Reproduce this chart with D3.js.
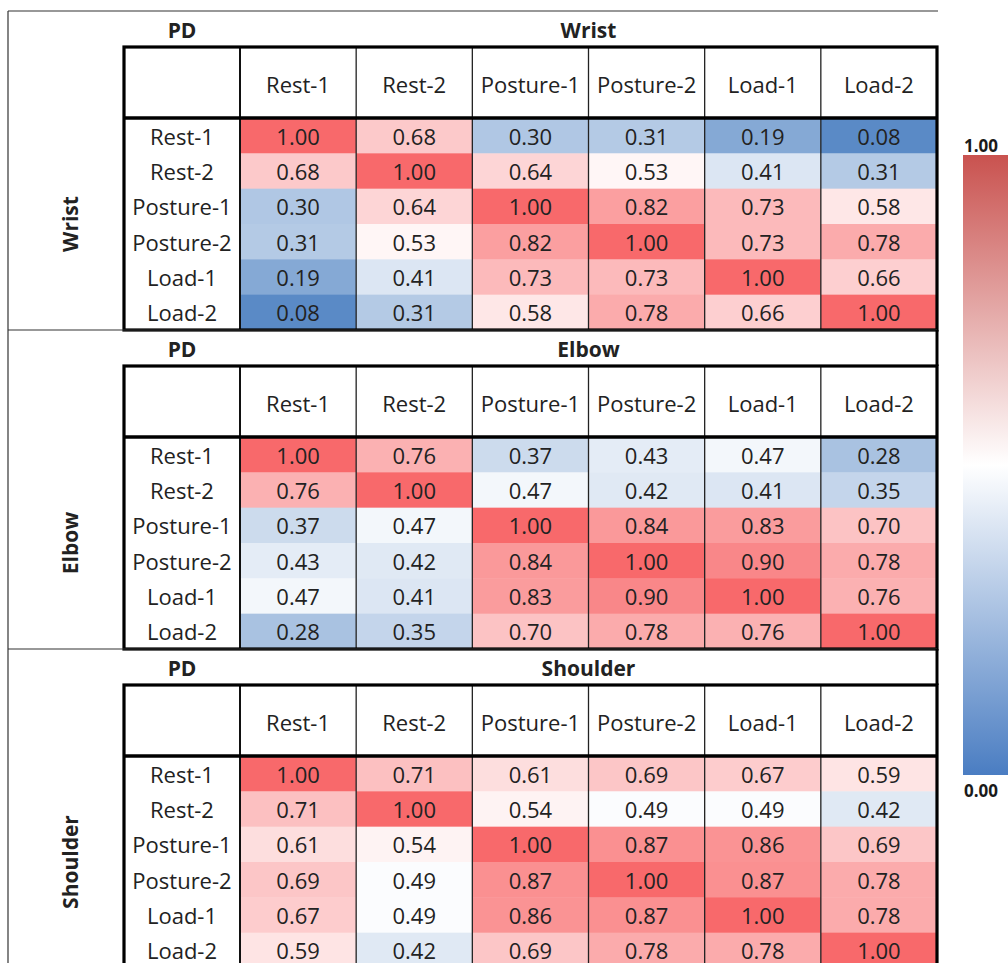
<!DOCTYPE html>
<html>
<head>
<meta charset="utf-8">
<script src="https://cdn.jsdelivr.net/npm/d3@7"></script>
<style>
  html, body { margin: 0; padding: 0; background: #fff; overflow: hidden; }
  svg { display: block; }
</style>
</head>
<body>
<svg id="chart" width="1008" height="963"></svg>
<script>
// ---------------- DATA ----------------
const conditions = ["Rest-1", "Rest-2", "Posture-1", "Posture-2", "Load-1", "Load-2"];
const joints = ["Wrist", "Elbow", "Shoulder"];
const groupLabel = "PD";

const wristValues = [
  [1.00, 0.68, 0.30, 0.31, 0.19, 0.08],
  [0.68, 1.00, 0.64, 0.53, 0.41, 0.31],
  [0.30, 0.64, 1.00, 0.82, 0.73, 0.58],
  [0.31, 0.53, 0.82, 1.00, 0.73, 0.78],
  [0.19, 0.41, 0.73, 0.73, 1.00, 0.66],
  [0.08, 0.31, 0.58, 0.78, 0.66, 1.00]
];
const elbowValues = [
  [1.00, 0.76, 0.37, 0.43, 0.47, 0.28],
  [0.76, 1.00, 0.47, 0.42, 0.41, 0.35],
  [0.37, 0.47, 1.00, 0.84, 0.83, 0.70],
  [0.43, 0.42, 0.84, 1.00, 0.90, 0.78],
  [0.47, 0.41, 0.83, 0.90, 1.00, 0.76],
  [0.28, 0.35, 0.70, 0.78, 0.76, 1.00]
];
const shoulderValues = [
  [1.00, 0.71, 0.61, 0.69, 0.67, 0.59],
  [0.71, 1.00, 0.54, 0.49, 0.49, 0.42],
  [0.61, 0.54, 1.00, 0.87, 0.86, 0.69],
  [0.69, 0.49, 0.87, 1.00, 0.87, 0.78],
  [0.67, 0.49, 0.86, 0.87, 1.00, 0.78],
  [0.59, 0.42, 0.69, 0.78, 0.78, 1.00]
];
const legendTicks = [0, 1];

// ---------------- LAYOUT ----------------
const svg = d3.select("#chart");
const FONT = "'Open Sans', 'Noto Sans', sans-serif";
const textColor = "#222";
const FS = 22, FSB = 21;

const frameLeft = 8, tableLeft = 124, labelRight = 240, tableRight = 937;
const top0 = 11, sectionH = 319, bandH = 36, headerH = 71;
const rowH = (sectionH - bandH - headerH) / 6;

const allVals = [wristValues, elbowValues, shoulderValues].flat(2);
const color = d3.scaleLinear()
  .domain([d3.min(allVals), 0.5, d3.max(allVals)])
  .range(["#5A8AC6", "#FFFFFF", "#F8696B"])
  .clamp(true);

const x = d3.scaleBand().domain(conditions).range([labelRight, tableRight]);

const sections = [
  { name: joints[0], values: wristValues },
  { name: joints[1], values: elbowValues },
  { name: joints[2], values: shoulderValues }
];

sections.forEach((sec, si) => {
  const sTop = top0 + si * sectionH;
  const hTop = sTop + bandH;
  const dTop = hTop + headerH;
  const dBot = dTop + rowH * 6;
  const y = d3.scaleBand().domain(conditions).range([dTop, dBot]);
  const g = svg.append("g");

  // cells
  const cells = [];
  sec.values.forEach((row, ri) => row.forEach((v, ci) => cells.push({ r: conditions[ri], c: conditions[ci], v })));
  g.selectAll("rect.cell").data(cells).join("rect")
    .attr("class", "cell")
    .attr("x", d => x(d.c)).attr("y", d => y(d.r))
    .attr("width", x.bandwidth()).attr("height", y.bandwidth() + 0.5)
    .attr("fill", d => color(d.v));

  g.selectAll("text.val").data(cells).join("text")
    .attr("class", "val")
    .attr("x", d => x(d.c) + x.bandwidth() / 2)
    .attr("y", d => y(d.r) + y.bandwidth() / 2)
    .attr("text-anchor", "middle").attr("dominant-baseline", "central")
    .attr("font-family", FONT).attr("font-size", FS).attr("fill", textColor)
    .text(d => d3.format(".2f")(d.v));

  // row labels
  g.selectAll("text.rl").data(conditions).join("text")
    .attr("class", "rl")
    .attr("x", (tableLeft + labelRight) / 2)
    .attr("y", d => y(d) + y.bandwidth() / 2)
    .attr("text-anchor", "middle").attr("dominant-baseline", "central")
    .attr("font-family", FONT).attr("font-size", FS).attr("fill", textColor)
    .text(d => d);

  // column headers
  g.selectAll("text.cl").data(conditions).join("text")
    .attr("class", "cl")
    .attr("x", d => x(d) + x.bandwidth() / 2)
    .attr("y", hTop + headerH / 2 + 1)
    .attr("text-anchor", "middle").attr("dominant-baseline", "central")
    .attr("font-family", FONT).attr("font-size", FS).attr("fill", textColor)
    .text(d => d);

  // band labels
  g.append("text")
    .attr("x", 182).attr("y", sTop + bandH / 2 + 1)
    .attr("text-anchor", "middle").attr("dominant-baseline", "central")
    .attr("font-family", FONT).attr("font-size", FSB).attr("font-weight", "bold").attr("fill", textColor)
    .text(groupLabel);
  g.append("text")
    .attr("x", (labelRight + tableRight) / 2).attr("y", sTop + bandH / 2 + 1)
    .attr("text-anchor", "middle").attr("dominant-baseline", "central")
    .attr("font-family", FONT).attr("font-size", FSB).attr("font-weight", "bold").attr("fill", textColor)
    .text(sec.name);

  // rotated joint label
  const cy = (dTop + dBot) / 2;
  g.append("text")
    .attr("transform", `translate(70,${cy}) rotate(-90)`)
    .attr("text-anchor", "middle").attr("dominant-baseline", "central")
    .attr("font-family", FONT).attr("font-size", FSB).attr("font-weight", "bold").attr("fill", textColor)
    .text(sec.name);

  // thin column dividers (header + data)
  g.selectAll("line.cd").data(conditions.slice(1)).join("line")
    .attr("class", "cd")
    .attr("x1", d => x(d)).attr("x2", d => x(d))
    .attr("y1", hTop).attr("y2", dBot)
    .attr("stroke", "#222").attr("stroke-width", 1.3);

  // label column right border
  g.append("line").attr("x1", labelRight).attr("x2", labelRight)
    .attr("y1", hTop).attr("y2", dBot).attr("stroke", "#111").attr("stroke-width", 2);

  // thick table frame
  g.append("rect").attr("x", tableLeft).attr("y", hTop)
    .attr("width", tableRight - tableLeft).attr("height", dBot - hTop)
    .attr("fill", "none").attr("stroke", "#000").attr("stroke-width", 3.2);
  g.append("line").attr("x1", tableLeft).attr("x2", tableRight)
    .attr("y1", dTop).attr("y2", dTop).attr("stroke", "#000").attr("stroke-width", 3.6);

  // section separator (thin, full width)
  if (si > 0) {
    g.append("line").attr("x1", frameLeft).attr("x2", tableRight)
      .attr("y1", sTop).attr("y2", sTop).attr("stroke", "#333").attr("stroke-width", 1.2);
    g.append("line").attr("x1", tableRight).attr("x2", tableRight)
      .attr("y1", sTop).attr("y2", hTop).attr("stroke", "#000").attr("stroke-width", 3);
  }
});

// outer frame
svg.append("line").attr("x1", frameLeft).attr("x2", tableRight + 1)
  .attr("y1", top0).attr("y2", top0).attr("stroke", "#333").attr("stroke-width", 1.2);
svg.append("line").attr("x1", frameLeft).attr("x2", frameLeft)
  .attr("y1", top0).attr("y2", 963).attr("stroke", "#333").attr("stroke-width", 1.2);

// ---------------- LEGEND ----------------
const ly = d3.scaleLinear().domain([0, 1]).range([775, 155]);
const defs = svg.append("defs");
const grad = defs.append("linearGradient").attr("id", "lg")
  .attr("x1", 0).attr("y1", 1).attr("x2", 0).attr("y2", 0);
grad.append("stop").attr("offset", "0%").attr("stop-color", "#4A7DC2");
grad.append("stop").attr("offset", "50%").attr("stop-color", "#FFFFFF");
grad.append("stop").attr("offset", "100%").attr("stop-color", "#C9524F");

svg.append("rect").attr("x", 963).attr("y", ly(1))
  .attr("width", 50).attr("height", ly(0) - ly(1))
  .attr("fill", "url(#lg)");

svg.selectAll("text.lt").data(legendTicks).join("text")
  .attr("class", "lt")
  .attr("x", 981)
  .attr("y", d => d === 1 ? ly(d) - 10 : ly(d) + 15)
  .attr("text-anchor", "middle").attr("dominant-baseline", "central")
  .attr("font-family", FONT).attr("font-size", 17).attr("font-weight", "bold").attr("fill", "#1a1a1a")
  .text(d => d3.format(".2f")(d));
</script>
</body>
</html>
